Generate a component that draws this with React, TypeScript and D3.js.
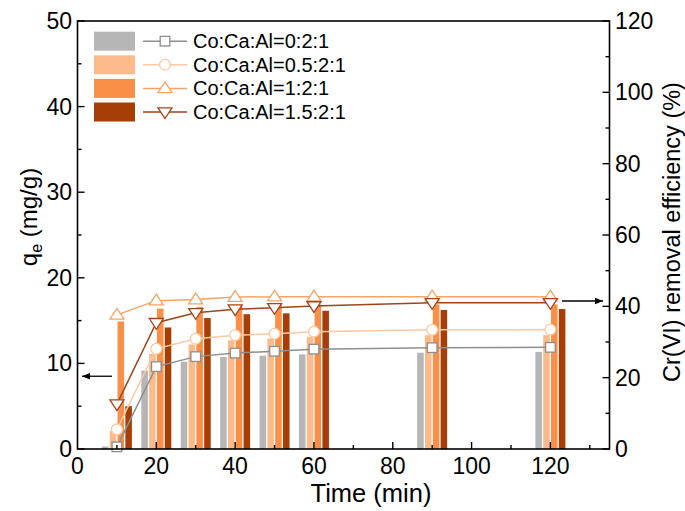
import React from "react";
import * as d3 from "d3";

const times = [10, 20, 30, 40, 50, 60, 90, 120];
const seriesNames = ["Co:Ca:Al=0:2:1", "Co:Ca:Al=0.5:2:1", "Co:Ca:Al=1:2:1", "Co:Ca:Al=1.5:2:1"];
// qe (mg/g), bars, left axis
const qe0 = [0.3, 9.15, 10.2, 10.75, 10.9, 11.05, 11.25, 11.35];
const qe1 = [2.1, 11.1, 12.2, 12.7, 12.9, 13.1, 13.3, 13.3];
const qe2 = [14.9, 16.4, 16.6, 16.8, 16.9, 16.9, 16.9, 16.9];
const qe3 = [5.0, 14.2, 15.3, 15.75, 15.85, 16.15, 16.25, 16.35];
// removal efficiency (%), lines, right axis
const rm0 = [0.6, 23.1, 25.9, 26.9, 27.4, 28.0, 28.4, 28.5];
const rm1 = [5.5, 28.1, 30.9, 31.9, 32.3, 32.9, 33.4, 33.5];
const rm2 = [37.6, 41.6, 41.9, 42.6, 42.7, 42.7, 42.7, 42.7];
const rm3 = [12.6, 35.4, 38.2, 39.2, 39.6, 40.1, 41.0, 41.0];

const xTicks = [0, 20, 40, 60, 80, 100, 120];
const xMinor = [10, 30, 50, 70, 90, 110, 130];
const yLTicks = [0, 10, 20, 30, 40, 50];
const yLMinor = [5, 15, 25, 35, 45];
const yRTicks = [0, 20, 40, 60, 80, 100, 120];
const yRMinor = [10, 30, 50, 70, 90, 110];

const qeData = [qe0, qe1, qe2, qe3];
const rmData = [rm0, rm1, rm2, rm3];
const barColors = ["#b6b6b6", "#fdbb8c", "#fa8f47", "#a63e05"];
const lineColors = ["#8e8e8e", "#fcc9a2", "#f5a468", "#a0451a"];
const markers = ["square", "circle", "up", "down"];

const FONT = "'Liberation Sans', Arial, sans-serif";

function Marker({ type, x, y, color }: { type: string; x: number; y: number; color: string }) {
  const sw = 1.3;
  if (type === "square") {
    return <rect x={x - 4.8} y={y - 4.8} width={9.6} height={9.6} fill="#fff" stroke={color} strokeWidth={sw} />;
  }
  if (type === "circle") {
    return <circle cx={x} cy={y} r={5.4} fill="#fff" stroke={color} strokeWidth={sw} />;
  }
  const s = 6.5;
  const pts =
    type === "up"
      ? [[x, y - s], [x + s * 1.08, y + s * 0.65], [x - s * 1.08, y + s * 0.65]]
      : [[x, y + s], [x + s * 1.08, y - s * 0.65], [x - s * 1.08, y - s * 0.65]];
  return <polygon points={pts.map((p) => p.join(",")).join(" ")} fill="#fff" stroke={color} strokeWidth={sw} />;
}

export default function App() {
  const W = 685, H = 511;
  const x = d3.scaleLinear().domain([0, 135]).range([77.5, 609.5]);
  const yL = d3.scaleLinear().domain([0, 50]).range([449, 21]);
  const yR = d3.scaleLinear().domain([0, 120]).range([449, 21]);
  const band = d3.scaleBand<number>().domain([0, 1, 2, 3]).range([-15, 15]).paddingInner(0.16);
  const line = d3.line<[number, number]>().x((d) => x(d[0])).y((d) => yR(d[1]));

  const left = x.range()[0], right = x.range()[1];
  const top = yL.range()[1], bottom = yL.range()[0];

  return (
    <svg width={W} height={H} style={{ position: "absolute", left: 0, top: 0, background: "#fff" }} fontFamily={FONT}>
      <defs>
        <marker id="ah" viewBox="0 0 10 10" refX="10" refY="5" markerWidth="10" markerHeight="8" markerUnits="userSpaceOnUse" orient="auto">
          <path d="M0,1 L10,5 L0,9 Z" fill="#000" />
        </marker>
      </defs>
      <rect width={W} height={H} fill="#fff" />
      {/* bars */}
      {qeData.map((vals, si) =>
        vals.map((v, i) => (
          <rect
            key={`b${si}-${i}`}
            x={x(times[i]) + (band(si) as number)}
            y={yL(v)}
            width={band.bandwidth()}
            height={yL(0) - yL(v)}
            fill={barColors[si]}
          />
        ))
      )}
      {/* lines */}
      {rmData.map((vals, si) => (
        <path key={`l${si}`} d={line(vals.map((v, i) => [times[i], v] as [number, number])) || ""} fill="none" stroke={lineColors[si]} strokeWidth={1.5} />
      ))}
      {rmData.map((vals, si) =>
        vals.map((v, i) => <Marker key={`m${si}-${i}`} type={markers[si]} x={x(times[i])} y={yR(v)} color={lineColors[si]} />)
      )}
      {/* frame */}
      <rect x={left} y={top} width={right - left} height={bottom - top} fill="none" stroke="#000" strokeWidth={1.6} />
      {/* x ticks */}
      {xTicks.map((t) => (
        <g key={`xt${t}`}>
          {t > 0 && <line x1={x(t)} x2={x(t)} y1={bottom} y2={bottom - 7} stroke="#000" strokeWidth={1.4} />}
          <text x={x(t)} y={474} textAnchor="middle" fontSize={23}>{t}</text>
        </g>
      ))}
      {xMinor.map((t) => (
        <line key={`xm${t}`} x1={x(t)} x2={x(t)} y1={bottom} y2={bottom - 4} stroke="#000" strokeWidth={1.4} />
      ))}
      {/* left ticks */}
      {yLTicks.map((t) => (
        <g key={`yl${t}`}>
          <line x1={left} x2={left + 7} y1={yL(t)} y2={yL(t)} stroke="#000" strokeWidth={1.4} />
          <text x={72} y={yL(t) + 8} textAnchor="end" fontSize={23}>{t}</text>
        </g>
      ))}
      {yLMinor.map((t) => (
        <line key={`ylm${t}`} x1={left} x2={left + 4} y1={yL(t)} y2={yL(t)} stroke="#000" strokeWidth={1.4} />
      ))}
      {/* right ticks */}
      {yRTicks.map((t) => (
        <g key={`yr${t}`}>
          <line x1={right} x2={right - 7} y1={yR(t)} y2={yR(t)} stroke="#000" strokeWidth={1.4} />
          <text x={615} y={yR(t) + 8} textAnchor="start" fontSize={23}>{t}</text>
        </g>
      ))}
      {yRMinor.map((t) => (
        <line key={`yrm${t}`} x1={right} x2={right - 4} y1={yR(t)} y2={yR(t)} stroke="#000" strokeWidth={1.4} />
      ))}
      {/* axis titles */}
      <text x={371} y={502} textAnchor="middle" fontSize={25.5}>Time (min)</text>
      <text transform={`translate(37,217) rotate(-90)`} textAnchor="middle" fontSize={24}>
        q<tspan fontSize={16} dy={5}>e</tspan>
        <tspan dy={-5}> (mg/g)</tspan>
      </text>
      <text transform={`translate(680,232) rotate(-90)`} textAnchor="middle" fontSize={23.5}>Cr(VI) removal efficiency (%)</text>
      {/* arrows */}
      <line x1={112} x2={82} y1={yL(8.5)} y2={yL(8.5)} stroke="#000" strokeWidth={1.3} markerEnd="url(#ah)" />
      <line x1={562} x2={603} y1={yR(41.5)} y2={yR(41.5)} stroke="#000" strokeWidth={1.3} markerEnd="url(#ah)" />
      {/* legend */}
      {seriesNames.map((name, si) => {
        const cy = 41.2 + si * 23.6;
        return (
          <g key={`lg${si}`}>
            <rect x={94} y={cy - 9.5} width={41} height={19} fill={barColors[si]} />
            <line x1={143} x2={187} y1={cy} y2={cy} stroke={lineColors[si]} strokeWidth={1.5} />
            <Marker type={markers[si]} x={165} y={cy} color={lineColors[si]} />
            <text x={193} y={cy + 7} fontSize={20}>{name}</text>
          </g>
        );
      })}
    </svg>
  );
}
